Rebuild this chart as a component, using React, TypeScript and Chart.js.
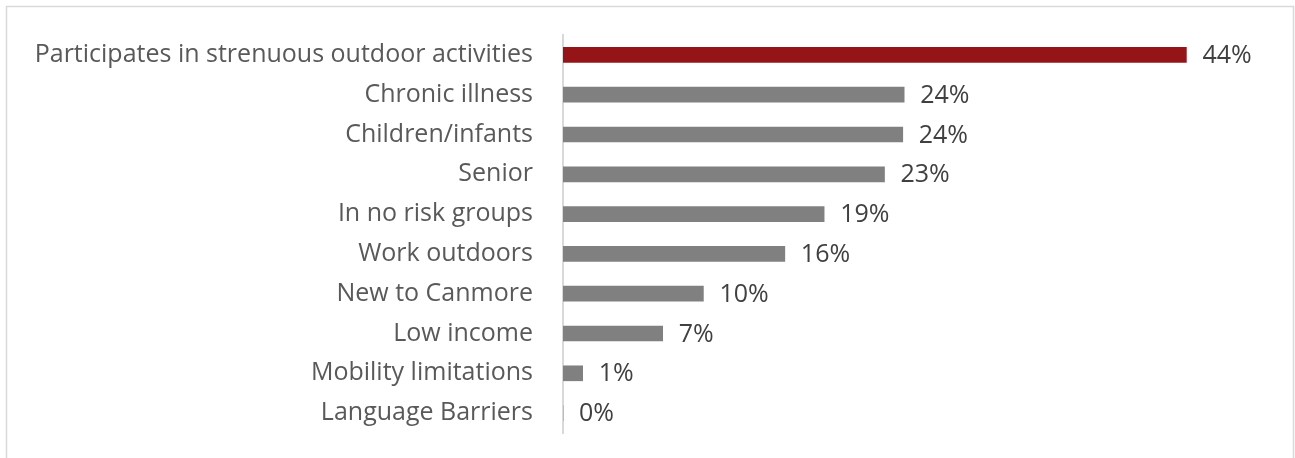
import React, { useEffect, useRef } from "react";
import { Chart, registerables } from "chart.js";

Chart.register(...registerables);

const categories = [
  "Participates in strenuous outdoor activities",
  "Chronic illness",
  "Children/infants",
  "Senior",
  "In no risk groups",
  "Work outdoors",
  "New to Canmore",
  "Low income",
  "Mobility limitations",
  "Language Barriers",
];
const values = [44.4, 24.3, 24.2, 22.9, 18.6, 15.8, 10.0, 7.1, 1.4, 0];
const barColors = [
  "#941418", "#808080", "#808080", "#808080", "#808080",
  "#808080", "#808080", "#808080", "#808080", "#808080",
];

const FONT = "'Open Sans', sans-serif";
const FONT_SIZE = 25;

const frameAndLabels = {
  id: "frameAndLabels",
  afterDatasetsDraw(chart: any) {
    const ctx = chart.ctx;
    const meta = chart.getDatasetMeta(0);
    ctx.save();
    ctx.font = `${FONT_SIZE}px ${FONT}`;
    ctx.fillStyle = "#404040";
    ctx.textAlign = "left";
    ctx.textBaseline = "middle";
    meta.data.forEach((el: any, i: number) => {
      ctx.fillText(Math.round(values[i]) + "%", el.x + 16, el.y + 1);
    });
    ctx.restore();
  },
  afterDraw(chart: any) {
    const ctx = chart.ctx;
    ctx.save();
    ctx.strokeStyle = "#d9d9d9";
    ctx.lineWidth = 1.5;
    ctx.beginPath();
    ctx.moveTo(6.5, 458);
    ctx.lineTo(6.5, 6.5);
    ctx.lineTo(1293.5, 6.5);
    ctx.lineTo(1293.5, 458);
    ctx.stroke();
    ctx.restore();
  },
};

export default function App() {
  const ref = useRef<HTMLCanvasElement | null>(null);
  useEffect(() => {
    document.body.style.margin = "0";
    const chart = new Chart(ref.current as HTMLCanvasElement, {
      type: "bar",
      data: {
        labels: categories,
        datasets: [
          {
            data: values,
            backgroundColor: barColors,
            barThickness: 15,
          },
        ],
      },
      options: {
        indexAxis: "y",
        animation: false,
        responsive: false,
        maintainAspectRatio: false,
        layout: { padding: { top: 35, bottom: 25, left: 0, right: 30 } },
        plugins: {
          legend: { display: false },
          tooltip: { enabled: false },
        },
        scales: {
          x: {
            display: false,
            min: 0,
            max: 50,
          },
          y: {
            afterFit(axis: any) {
              axis.width = 563;
              axis.paddingTop = 0;
              axis.paddingBottom = 0;
            },
            grid: { display: false, drawTicks: false },
            border: { display: true, color: "#d9d9d9", width: 2 },
            ticks: {
              padding: 30,
              color: "#595959",
              font: { family: FONT, size: FONT_SIZE },
            },
          },
        },
      },
      plugins: [frameAndLabels],
    });
    return () => chart.destroy();
  }, []);
  return <canvas ref={ref} width={1295} height={458} style={{ display: "block" }} />;
}
